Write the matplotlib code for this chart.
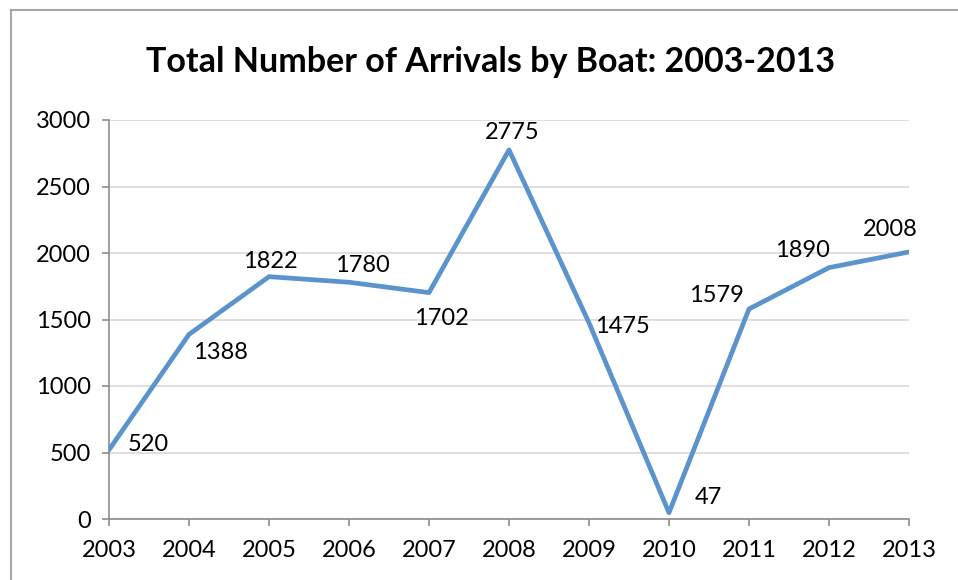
import matplotlib
matplotlib.use("Agg")
import matplotlib.pyplot as plt
from matplotlib.lines import Line2D

# ── DATA ──────────────────────────────────────────────────────────────────────
years    = [2003, 2004, 2005, 2006, 2007, 2008, 2009, 2010, 2011, 2012, 2013]
arrivals = [520, 1388, 1822, 1780, 1702, 2775, 1475, 47, 1579, 1890, 2008]
yticks   = [0, 500, 1000, 1500, 2000, 2500, 3000]
title    = "Total Number of Arrivals by Boat: 2003-2013"

# label offsets in pixels (dx, dy) relative to each point
label_off = [(39, 5), (31, -18), (1, 15), (13, 17), (12, -26), (3, 17),
             (33, -4), (39, 15), (-33, 13), (-27, 17), (-19, 22)]

plt.rcParams["font.family"] = ["Lato", "DejaVu Sans"]

W, H, DPI = 958, 580, 100
fig = plt.figure(figsize=(W / DPI, H / DPI), dpi=DPI)
ax = fig.add_axes([109 / W, 1 - 519 / H, 800 / W, 399 / H])

LINE = "#5B93CD"
AXC  = "#8C8C8C"
ax.plot(years, arrivals, color=LINE, lw=3.4, solid_capstyle="round",
        solid_joinstyle="round", zorder=3)

px2pt = 72 / DPI
for x, y, (dx, dy) in zip(years, arrivals, label_off):
    ax.annotate(str(y), (x, y), xytext=(dx * px2pt, dy * px2pt),
                textcoords="offset points", ha="center", va="center",
                fontsize=17, color="black", zorder=4)

ax.set_xlim(years[0], years[-1])
ax.set_ylim(0, 3000)
ax.set_xticks(years)
ax.set_yticks(yticks)
ax.tick_params(axis="both", direction="out", length=5, width=1.2, color=AXC,
               labelsize=17)
ax.tick_params(axis="x", pad=10)
ax.tick_params(axis="y", pad=8)
ax.grid(axis="y", color="#D9D9D9", lw=1.2)
ax.set_axisbelow(True)
for s in ["top", "right"]:
    ax.spines[s].set_visible(False)
for s in ["left", "bottom"]:
    ax.spines[s].set_color(AXC)
    ax.spines[s].set_linewidth(1.2)

fig.text(491 / W, 1 - 62 / H, title, ha="center", va="center",
         fontsize=24.5, fontweight="bold")

# outer chart frame (top and left edges visible)
fig.add_artist(Line2D([11 / W, 11 / W], [0, 1 - 10 / H], transform=fig.transFigure,
                      color="#A6A6A6", lw=1.5))
fig.add_artist(Line2D([11 / W, 1], [1 - 10 / H, 1 - 10 / H], transform=fig.transFigure,
                      color="#A6A6A6", lw=1.5))

fig.savefig("out.png", dpi=DPI)
